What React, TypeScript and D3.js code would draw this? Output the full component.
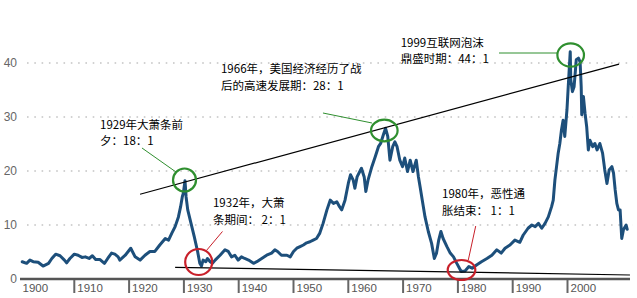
import React from "react";
import * as d3 from "d3";

// Price / earnings style ratio
const years: number[] = [
  1900.5, 1901.3, 1901.9, 1902.5, 1903.4, 1904.3, 1905.3, 1905.9, 1906.6, 1907.4,
  1908.2, 1908.6, 1909.2, 1910.0, 1910.7, 1911.4, 1912.0, 1912.7, 1913.3, 1913.9,
  1914.7, 1915.5, 1916.1, 1916.8, 1917.4, 1918.0, 1918.3, 1919.3, 1920.3, 1921.1,
  1922.0, 1922.9, 1923.8, 1924.7, 1925.6, 1926.6, 1927.2, 1927.8, 1928.4, 1929.0,
  1929.4, 1929.7, 1929.9, 1930.2, 1930.4, 1930.7, 1931.3, 1931.9, 1932.5, 1932.9,
  1933.2, 1933.5, 1934.0, 1934.3, 1934.8, 1935.2, 1935.7, 1936.6, 1937.5, 1938.1,
  1938.7, 1939.3, 1939.9, 1940.5, 1941.1, 1941.8, 1942.7, 1943.3, 1944.2, 1945.1,
  1946.0, 1946.6, 1947.1, 1947.8, 1948.8, 1949.4, 1950.0, 1950.6, 1951.2, 1951.8,
  1952.4, 1953.0, 1953.6, 1954.2, 1954.8, 1955.4, 1956.1, 1956.7, 1957.3, 1957.9,
  1958.4, 1958.8, 1959.4, 1960.0, 1960.4, 1960.9, 1961.2, 1961.6, 1962.4, 1962.9,
  1963.2, 1963.6, 1964.3, 1964.9, 1965.5, 1965.9, 1966.4, 1966.8, 1967.2, 1967.6,
  1968.1, 1968.5, 1968.9, 1969.4, 1969.9, 1970.3, 1970.8, 1971.3, 1971.8, 1972.4,
  1972.8, 1973.1, 1973.5, 1974.0, 1974.6, 1975.2, 1975.7, 1976.1, 1976.5, 1976.9,
  1977.3, 1978.0, 1978.6, 1979.2, 1979.8, 1980.6, 1981.3, 1982.0, 1982.6, 1983.4,
  1984.3, 1985.3, 1986.2, 1987.1, 1987.9, 1988.6, 1989.5, 1990.4, 1991.3, 1991.9,
  1992.8, 1993.5, 1994.1, 1994.7, 1995.3, 1995.9, 1996.5, 1997.1, 1997.4, 1997.7,
  1998.0, 1998.3, 1998.6, 1998.9, 1999.2, 1999.5, 1999.9, 2000.1, 2000.5, 2000.6,
  2000.9, 2001.2, 2001.6, 2002.0, 2002.3, 2002.5, 2002.6, 2002.9, 2003.2, 2003.5,
  2003.8, 2004.1, 2004.6, 2005.0, 2005.4, 2005.9, 2006.4, 2006.8, 2007.2, 2007.6,
  2008.1, 2008.4, 2008.7, 2009.0, 2009.3, 2009.6, 2009.9, 2010.2, 2010.7, 2010.9,
];

const ratios: number[] = [
  3.2, 2.9, 3.5, 3.2, 3.1, 2.4, 2.9, 3.8, 4.6, 4.3,
  3.5, 3.0, 3.8, 4.6, 4.4, 4.0, 4.1, 3.8, 4.3, 3.6,
  3.6, 2.9, 3.8, 4.8, 4.6, 4.1, 3.5, 4.4, 5.7, 4.1,
  3.5, 4.4, 5.1, 5.1, 6.3, 7.5, 7.2, 8.5, 9.7, 11.5,
  13.4, 15.2, 15.9, 18.2, 15.2, 12.8, 10.3, 7.8, 5.1, 2.9,
  2.4, 3.5, 3.2, 3.8, 3.2, 2.9, 3.5, 4.4, 5.4, 5.1,
  4.1, 4.4, 3.5, 4.1, 3.8, 3.5, 2.9, 3.2, 3.8, 4.4,
  4.8, 5.4, 5.1, 4.4, 4.4, 4.1, 5.1, 5.7, 6.0, 6.3,
  6.7, 6.9, 7.2, 7.5, 8.5, 10.3, 12.8, 14.6, 14.0, 14.3,
  13.4, 12.8, 14.6, 17.7, 19.3, 18.3, 16.8, 18.9, 20.5, 18.9,
  16.2, 18.3, 20.8, 22.6, 24.5, 25.1, 26.7, 27.9, 26.4, 22.0,
  24.5, 25.4, 24.5, 22.0, 20.8, 22.4, 19.9, 22.0, 19.9, 22.0,
  18.9, 17.1, 14.6, 11.5, 8.8, 6.6, 3.8, 4.8, 7.2, 8.8,
  7.5, 6.0, 4.8, 4.1, 2.9, 1.4, 1.5, 2.3, 2.0, 2.6,
  3.2, 3.8, 4.4, 5.4, 4.8, 5.7, 6.3, 7.2, 6.8, 8.1,
  9.4, 10.0, 9.7, 10.3, 9.4, 10.3, 11.5, 13.4, 14.6, 18.3,
  20.8, 23.3, 25.1, 27.6, 29.4, 26.4, 31.3, 35.0, 42.1, 36.9,
  34.7, 35.6, 40.6, 40.9, 40.2, 35.6, 30.4, 33.8, 30.7, 28.2,
  23.9, 25.7, 24.5, 25.1, 23.9, 25.1, 23.3, 20.2, 17.7, 20.2,
  20.8, 19.6, 16.5, 14.0, 12.8, 12.8, 7.5, 9.1, 10.0, 9.2,
];

const yTicks: number[] = [0, 10, 20, 30, 40];
const xTickYears: number[] = [1900, 1910, 1920, 1930, 1940, 1950, 1960, 1970, 1980, 1990, 2000];

// Trend lines [year, value] endpoints
const upperTrend: [number, number][] = [[1922.0, 15.7], [2009.4, 39.8]];
const lowerTrend: [number, number][] = [[1928.4, 2.17], [2011.4, 0.74]];

// Annotations
const noteLines: string[][] = [
  ["1929年大萧条前", "夕：18：1"],
  ["1966年，美国经济经历了战", "后的高速发展期：28：1"],
  ["1999互联网泡沫", "鼎盛时期：44：1"],
  ["1932年，大萧", "条期间： 2：1"],
  ["1980年，恶性通", "胀结束： 1：1"],
];
const noteAnchor: [number, number][] = [
  [1914.69, 27.85], [1936.77, 38.13], [1969.56, 43.04], [1935.31, 13.31], [1977.1, 14.94],
];
const noteKind: string[] = ["peak", "peak", "peak", "trough", "trough"];
const circleCenter: [number, number][] = [
  [1930.11, 18.33], [1966.57, 27.5], [2000.58, 41.48], [1932.7, 3.15], [1980.66, 1.67],
];
const circleRadius: [number, number][] = [
  [11.5, 11.5], [13.3, 10.8], [13.3, 11.7], [13.5, 13], [13.8, 10],
];
const connectorFrom: [number, number][] = [
  [1922.35, 24.26], [1955.38, 30.74], [1987.5, 41.85], [1937.04, 8.8], [1983.25, 9.81],
];
const connectorTo: [number, number][] = [
  [1928.56, 19.81], [1964.32, 28.89], [1998.27, 41.85], [1934.12, 5.28], [1981.9, 3.52],
];

const W = 637;
const H = 298;
const GREEN = "#2f8f2f";
const RED = "#c8202a";
const NOTE_FONT = 11.5;
const NOTE_GAP = 16.8;

export default function App() {
  const x = d3.scaleLinear().domain([1900, 2000]).range([19.5, 567.5]);
  const y = d3.scaleLinear().domain([0, 40]).range([279, 63]);

  const pts: [number, number][] = years.map((yr, i) => [yr, ratios[i]]);
  const line = d3
    .line<[number, number]>()
    .x((d) => x(d[0]))
    .y((d) => y(d[1]));

  const cjk = "'Noto Sans CJK SC', 'Noto Sans', sans-serif";
  const latin = "Arial, 'Liberation Sans', sans-serif";

  return (
    <svg
      width={W}
      height={H}
      style={{ position: "absolute", left: 0, top: 0, background: "#fff" }}
    >
      {/* grid */}
      {yTicks.filter((t) => t > 0).map((t) => (
        <line
          key={"g" + t}
          x1={27}
          x2={633}
          y1={y(t)}
          y2={y(t)}
          stroke="#c4c4c4"
          strokeWidth={1.6}
          strokeDasharray="1.6,5.7"
        />
      ))}
      {yTicks.map((t) => (
        <text
          key={"yl" + t}
          x={17}
          y={y(t)}
          dy="0.36em"
          textAnchor="end"
          fontFamily={latin}
          fontSize={12}
          fill="#666"
        >
          {t}
        </text>
      ))}

      {/* series */}
      <path
        d={line(pts) || ""}
        fill="none"
        stroke="#1d4f7b"
        strokeWidth={3}
        strokeLinejoin="round"
        strokeLinecap="round"
      />

      {/* trend lines */}
      <line
        x1={x(upperTrend[0][0])}
        y1={y(upperTrend[0][1])}
        x2={x(upperTrend[1][0])}
        y2={y(upperTrend[1][1])}
        stroke="#000"
        strokeWidth={1.2}
      />
      <line
        x1={x(lowerTrend[0][0])}
        y1={y(lowerTrend[0][1])}
        x2={x(lowerTrend[1][0])}
        y2={y(lowerTrend[1][1])}
        stroke="#000"
        strokeWidth={1.2}
      />

      {/* x axis */}
      <line x1={20} x2={630} y1={y(0)} y2={y(0)} stroke="#555" strokeWidth={2.5} />
      {xTickYears.map((yr) => (
        <g key={"xt" + yr}>
          {yr > 1900 && (
            <line
              x1={x(yr)}
              x2={x(yr)}
              y1={y(0) + 1}
              y2={y(0) + 14}
              stroke="#666"
              strokeWidth={2}
            />
          )}
          <text
            x={x(yr) + 3}
            y={292}
            fontFamily={latin}
            fontSize={11.5}
            fill="#555"
          >
            {yr}
          </text>
        </g>
      ))}

      {/* annotations */}
      {noteLines.map((ls, i) => {
        const col = noteKind[i] === "peak" ? GREEN : RED;
        const tx = x(noteAnchor[i][0]);
        return (
          <g key={"n" + i}>
            <line
              x1={x(connectorFrom[i][0])}
              y1={y(connectorFrom[i][1])}
              x2={x(connectorTo[i][0])}
              y2={y(connectorTo[i][1])}
              stroke={col}
              strokeWidth={1}
            />
            <ellipse
              cx={x(circleCenter[i][0])}
              cy={y(circleCenter[i][1])}
              rx={circleRadius[i][0]}
              ry={circleRadius[i][1]}
              fill="none"
              stroke={col}
              strokeWidth={2.2}
            />
            <text
              x={tx}
              y={y(noteAnchor[i][1])}
              fontFamily={cjk}
              fontSize={NOTE_FONT}
              fill="#000"
            >
              {ls.map((s, j) => (
                <tspan key={j} x={tx} dy={j === 0 ? 0 : NOTE_GAP}>
                  {s}
                </tspan>
              ))}
            </text>
          </g>
        );
      })}
    </svg>
  );
}
